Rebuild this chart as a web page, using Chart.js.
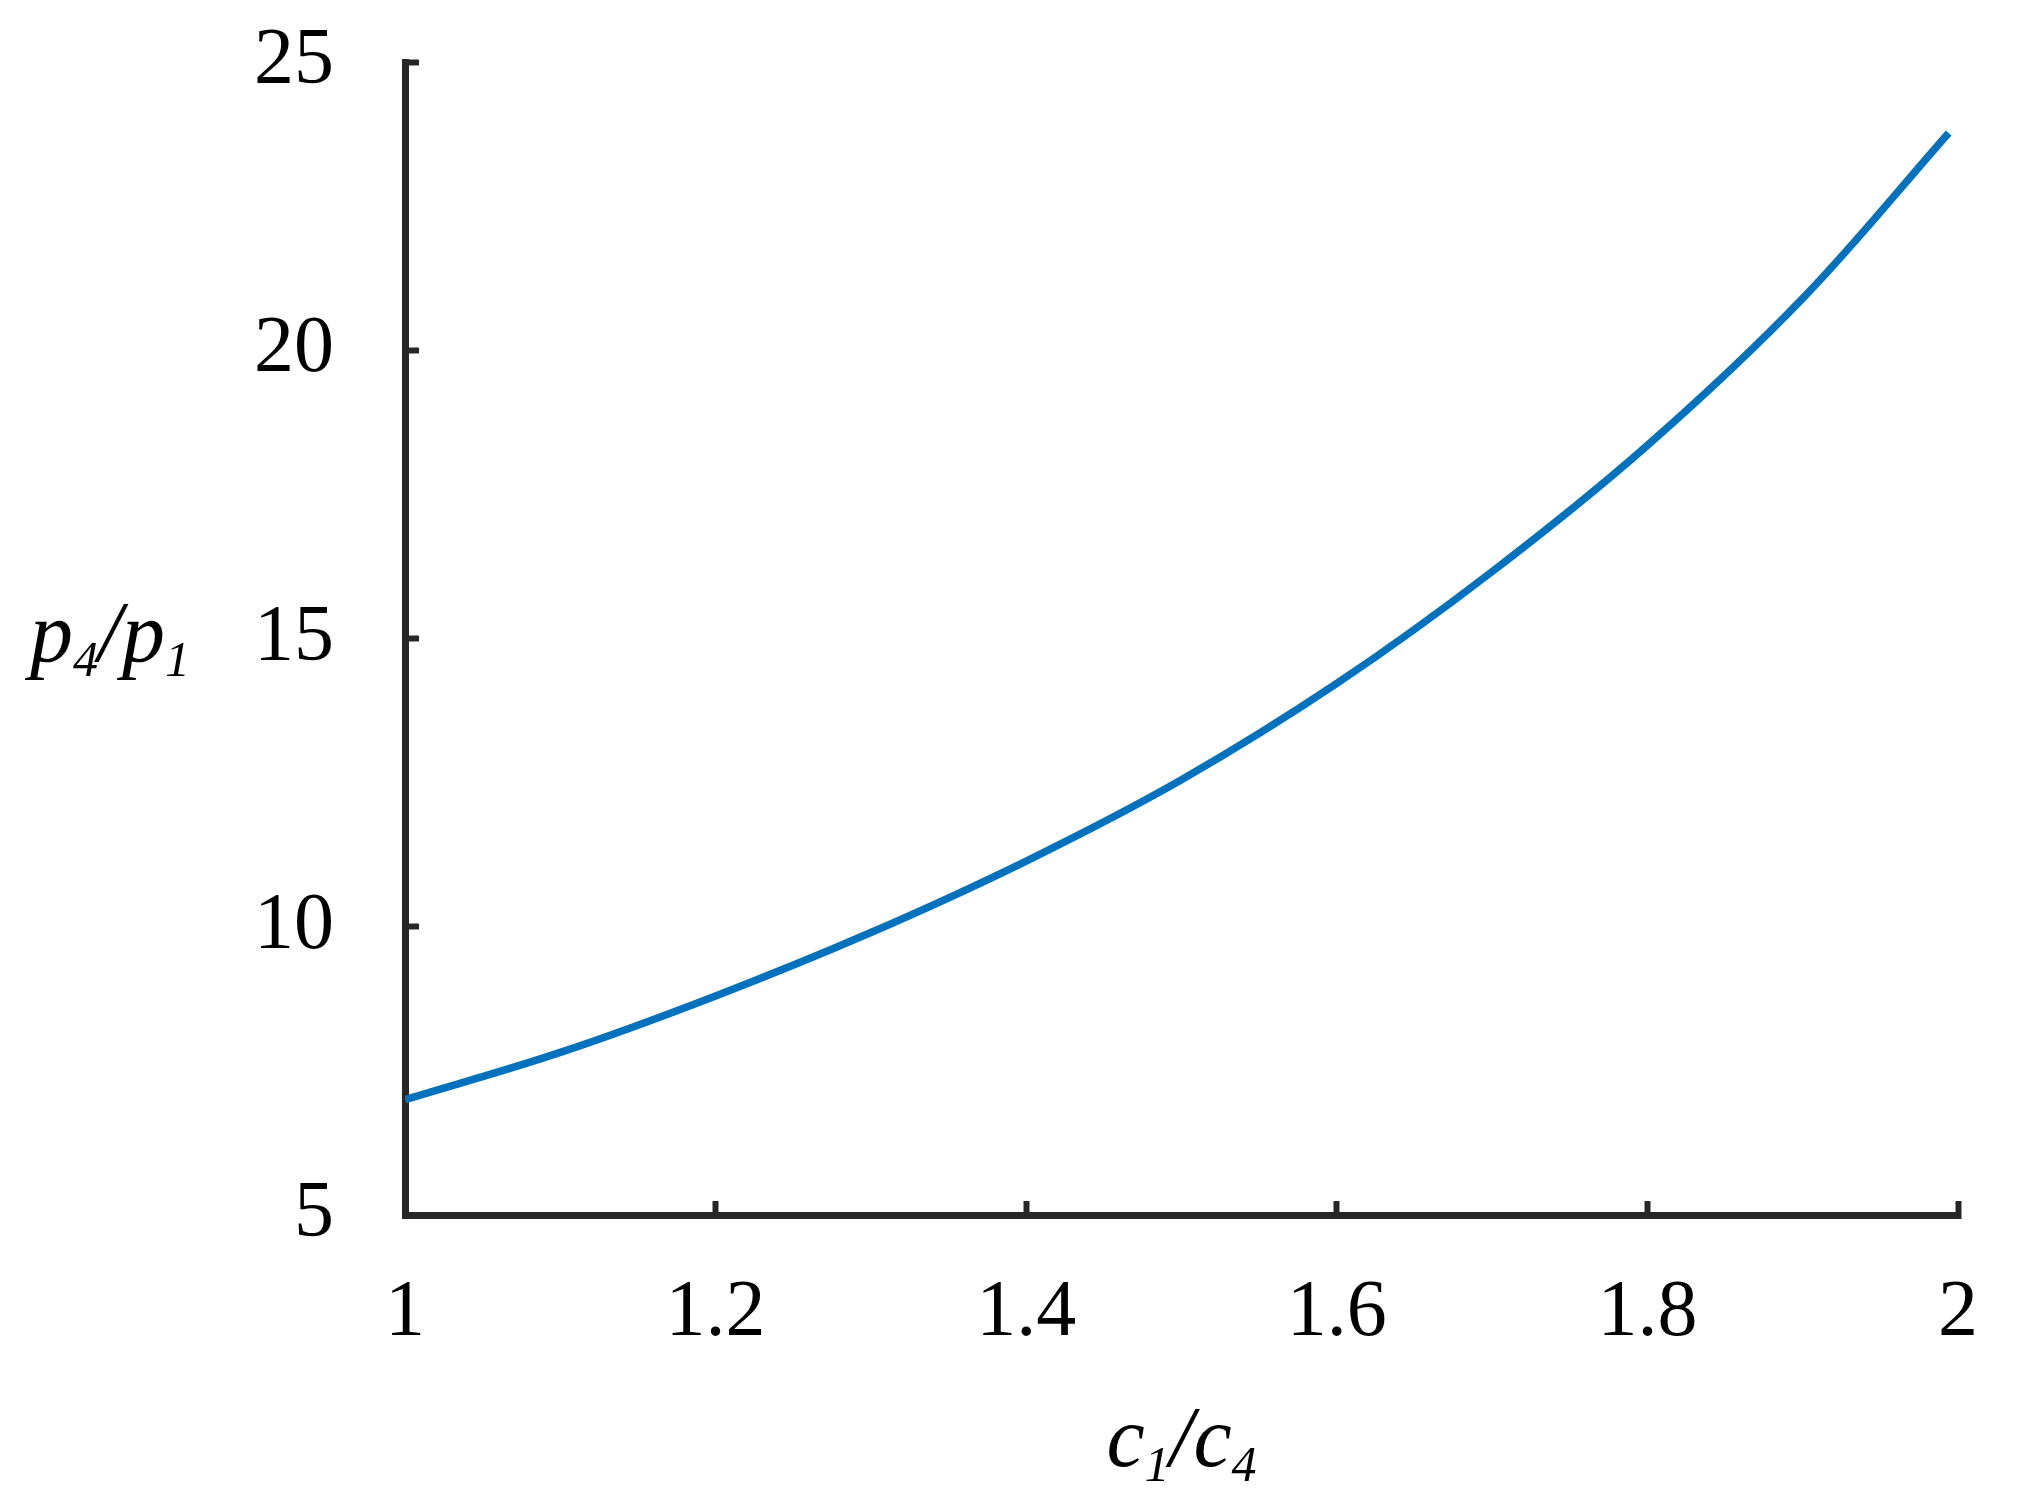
<!DOCTYPE html>
<html><head><meta charset="utf-8">
<script src="https://cdn.jsdelivr.net/npm/chart.js@4"></script>
<style>html,body{margin:0;padding:0;background:#fff;overflow:hidden}</style>
</head><body>
<canvas id="c" width="2030" height="1506"></canvas>
<script>
// Data
const ratioC = [1.0, 1.1, 1.2, 1.3, 1.4, 1.5, 1.6, 1.7, 1.8, 1.9, 1.994];      // c1/c4
const ratioP = [7.0, 7.82, 8.80, 9.90, 11.14, 12.55, 14.22, 16.16, 18.35, 20.90, 23.77]; // p4/p1
const xTickValues = [1, 1.2, 1.4, 1.6, 1.8, 2];
const yTickValues = [5, 10, 15, 20, 25];
const xTitleParts = [['c', false], ['1', true], ['/', false], ['c', false], ['4', true]];
const yTitleParts = [['p', false], ['4', true], ['/', false], ['p', false], ['1', true]];

const AXIS = '#262626';
const FONT = "'Liberation Serif', 'Times New Roman', serif";

function drawMath(ctx, parts, x, y, align) {
  const main = 'italic 86px ' + FONT, sub = 'italic 50px ' + FONT;
  let w = 0;
  const ws = parts.map(([t, s]) => { ctx.font = s ? sub : main; const m = ctx.measureText(t).width; w += m; return m; });
  let cx = align === 'center' ? x - w / 2 : x;
  ctx.fillStyle = '#000';
  ctx.textBaseline = 'alphabetic';
  ctx.textAlign = 'left';
  parts.forEach(([t, s], i) => {
    ctx.font = s ? sub : main;
    ctx.fillText(t, cx, s ? y + 15 : y);
    cx += ws[i];
  });
}

const titlePlugin = {
  id: 'mathTitles',
  afterDraw(chart) {
    const ctx = chart.ctx;
    ctx.save();
    drawMath(ctx, yTitleParts, 30, 661, 'left');
    const xa = chart.scales.x;
    drawMath(ctx, xTitleParts, (xa.left + xa.right) / 2, 1466, 'center');
    ctx.restore();
  }
};

new Chart(document.getElementById('c'), {
  type: 'line',
  data: {
    datasets: [{
      data: ratioC.map((x, i) => ({ x, y: ratioP[i] })),
      borderColor: '#0072BD',
      borderWidth: 7.5,
      pointRadius: 0,
      fill: false,
      tension: 0.35
    }]
  },
  options: {
    responsive: false,
    devicePixelRatio: 1,
    animation: false,
    layout: { padding: { left: 0, right: 72, top: 62, bottom: 0 } },
    plugins: { legend: { display: false }, tooltip: { enabled: false } },
    scales: {
      x: {
        type: 'linear', min: 1, max: 2,
        afterFit: s => { s.height = 291; s.paddingLeft = 0; s.paddingRight = 0; },
        afterBuildTicks: s => { s.ticks = xTickValues.map(v => ({ value: v })); },
        border: { display: true, color: AXIS, width: 7 },
        grid: { display: true, drawOnChartArea: false, drawTicks: true, tickLength: -14, tickWidth: 6, tickColor: AXIS },
        ticks: { color: '#000', font: { family: FONT, size: 80 }, padding: 65, maxRotation: 0, autoSkip: false,
                 callback: v => String(Number(v.toFixed(1))) }
      },
      y: {
        type: 'linear', min: 5, max: 25,
        afterFit: s => { s.width = 405; s.paddingTop = 0; s.paddingBottom = 0; },
        afterBuildTicks: s => { s.ticks = yTickValues.map(v => ({ value: v })); },
        border: { display: true, color: AXIS, width: 7 },
        grid: { display: true, drawOnChartArea: false, drawTicks: true, tickLength: -14, tickWidth: 6, tickColor: AXIS },
        ticks: { color: '#000', font: { family: FONT, size: 80 }, padding: 85, autoSkip: false,
                 callback: v => String(v) }
      }
    }
  },
  plugins: [titlePlugin]
});
</script>
</body></html>
